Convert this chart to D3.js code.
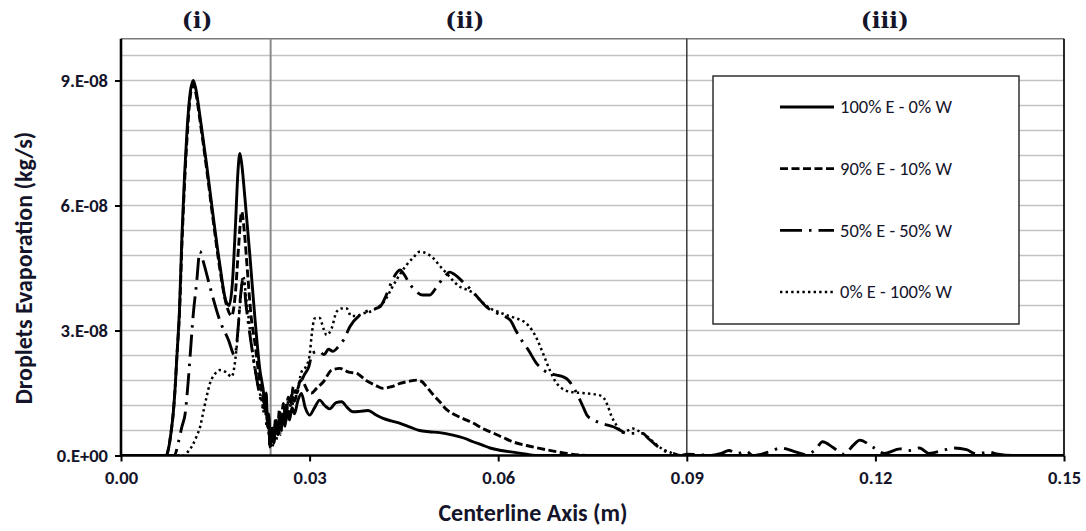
<!DOCTYPE html>
<html><head><meta charset="utf-8">
<script src="https://cdn.jsdelivr.net/npm/d3@7"></script>
<style>body{margin:0;background:#fff}svg{display:block}</style>
</head><body><svg id="chart" width="1086" height="531"></svg>
<script>
// ---------- DATA (x in m, y in units of 1e-8 kg/s) ----------
const xTicks = [0, 0.03, 0.06, 0.09, 0.12, 0.15];
const yTicks = [0, 3, 6, 9];
const gridValues = [0.6,1.2,1.8,2.4,3.0,3.6,4.2,4.8,5.4,6.0,6.6,7.2,7.8,8.4,9.0,9.6];
const regionBounds = [0.0238, 0.09];
const regionLabels = ["(i)", "(ii)", "(iii)"];
const regionLabelX = [0.0121, 0.0547, 0.1215];
const seriesNames = ["100% E - 0% W", "90% E - 10% W", "50% E - 50% W", "0% E - 100% W"];

const s100E = [[0,0],[0.0072,0],[0.0076,0.2],[0.0080,0.6],[0.0083,1.0],[0.0086,1.6],[0.0089,2.4],[0.0093,3.5],[0.0097,5.3],[0.0101,6.7],[0.0105,7.8],[0.0110,8.7],[0.0115,9.0],[0.0119,8.8],[0.0126,8.1],[0.0136,7.0],[0.0147,5.7],[0.0157,4.6],[0.0167,3.7],[0.0172,3.6],[0.0177,4.1],[0.0182,5.5],[0.0186,6.8],[0.0189,7.25],[0.0192,7.0],[0.0197,6.2],[0.0205,4.8],[0.0213,3.3],[0.0221,2.05],[0.0226,1.6],[0.0229,1.25],[0.0231,1.5],[0.0233,0.8],[0.0235,1.0],[0.0237,0.2],[0.0240,0.6],[0.0243,0.3],[0.0246,0.8],[0.0249,0.5],[0.0252,0.9],[0.0255,0.6],[0.0258,1.0],[0.0261,0.7],[0.0264,1.1],[0.0268,0.85],[0.0272,1.15],[0.0276,1.0],[0.0281,1.3],[0.0287,1.49],[0.0293,1.15],[0.0300,0.97],[0.0308,1.15],[0.0316,1.33],[0.0324,1.2],[0.0332,1.12],[0.0342,1.27],[0.0351,1.29],[0.0360,1.15],[0.0369,1.05],[0.0380,1.06],[0.0393,1.08],[0.0405,0.98],[0.0417,0.89],[0.0430,0.83],[0.0444,0.77],[0.0460,0.68],[0.0475,0.6],[0.0490,0.57],[0.0507,0.55],[0.0528,0.49],[0.0545,0.42],[0.0560,0.33],[0.0575,0.25],[0.0587,0.18],[0.0605,0.12],[0.0623,0.08],[0.0645,0.03],[0.0666,0],[0.15,0]];

const s90E = [[0,0],[0.0072,0],[0.0076,0.2],[0.0080,0.6],[0.0083,1.0],[0.0086,1.6],[0.0089,2.4],[0.0093,3.4],[0.0097,5.1],[0.0101,6.5],[0.0105,7.6],[0.0110,8.6],[0.0115,8.9],[0.0119,8.7],[0.0126,8.0],[0.0136,6.9],[0.0147,5.6],[0.0157,4.5],[0.0168,3.6],[0.0176,3.35],[0.0182,3.9],[0.0187,5.0],[0.0192,5.85],[0.0196,5.4],[0.0201,4.45],[0.0207,3.33],[0.0213,2.7],[0.0221,1.75],[0.0226,1.4],[0.0229,1.1],[0.0231,1.3],[0.0233,0.7],[0.0235,0.9],[0.0237,0.25],[0.0240,0.7],[0.0243,0.4],[0.0246,0.9],[0.0249,0.6],[0.0252,1.1],[0.0255,0.8],[0.0258,1.25],[0.0262,0.95],[0.0266,1.4],[0.0270,1.2],[0.0274,1.65],[0.0280,1.5],[0.0285,1.8],[0.0290,1.75],[0.0297,1.55],[0.0303,1.5],[0.0311,1.61],[0.0322,1.77],[0.0335,2.05],[0.0348,2.09],[0.0362,2.0],[0.0375,1.97],[0.0390,1.8],[0.0404,1.69],[0.0417,1.61],[0.0430,1.65],[0.0444,1.73],[0.0458,1.78],[0.0470,1.81],[0.0478,1.78],[0.0486,1.65],[0.0497,1.45],[0.0507,1.29],[0.0518,1.1],[0.0528,1.0],[0.0545,0.88],[0.0560,0.78],[0.0575,0.65],[0.0592,0.54],[0.0608,0.43],[0.0623,0.33],[0.0645,0.24],[0.0666,0.17],[0.0690,0.1],[0.0709,0.05],[0.0730,0.01],[0.0750,0],[0.15,0]];

const s50E = [[0,0],[0.0085,0],[0.0091,0.3],[0.0097,0.7],[0.0102,1.0],[0.0107,1.8],[0.0110,2.4],[0.0115,3.4],[0.0120,4.1],[0.01256,4.9],[0.0130,4.7],[0.01415,4.05],[0.0157,3.25],[0.0171,2.77],[0.0181,2.4],[0.0186,3.0],[0.0190,3.8],[0.01945,4.25],[0.0199,3.6],[0.0205,2.9],[0.0212,2.2],[0.0220,1.5],[0.0226,1.15],[0.0229,1.3],[0.0232,0.7],[0.0235,0.8],[0.0237,0.15],[0.0240,0.5],[0.0243,0.3],[0.0246,0.8],[0.0250,0.5],[0.0254,1.0],[0.0258,0.75],[0.0262,1.2],[0.0266,1.0],[0.0271,1.45],[0.0276,1.3],[0.0281,1.6],[0.0286,1.75],[0.0292,1.95],[0.0298,2.1],[0.0305,2.46],[0.0315,2.5],[0.0323,2.42],[0.0330,2.55],[0.0337,2.5],[0.0345,2.6],[0.0355,2.8],[0.0364,3.09],[0.0380,3.37],[0.0396,3.49],[0.0412,3.57],[0.0422,3.85],[0.0433,4.25],[0.0444,4.45],[0.0450,4.35],[0.0460,4.1],[0.0470,3.93],[0.0480,3.85],[0.0491,3.85],[0.0500,4.0],[0.0507,4.15],[0.0515,4.3],[0.0523,4.4],[0.0530,4.35],[0.0545,4.15],[0.0560,3.93],[0.0570,3.75],[0.0581,3.57],[0.0600,3.4],[0.0619,3.25],[0.0628,3.0],[0.0637,2.77],[0.0648,2.53],[0.0661,2.21],[0.0672,2.05],[0.0682,1.97],[0.0693,1.93],[0.0703,1.89],[0.0712,1.8],[0.0719,1.65],[0.0728,1.4],[0.0735,1.17],[0.0742,0.95],[0.0752,0.85],[0.0762,0.78],[0.0783,0.69],[0.0795,0.6],[0.0804,0.53],[0.0818,0.53],[0.0830,0.53],[0.0838,0.42],[0.0847,0.3],[0.0862,0.13],[0.0878,0.05],[0.0890,0],[0.0900,0.03],[0.0920,0.02],[0.0935,0],[0.0955,0.05],[0.0967,0.12],[0.0980,0.05],[0.0995,0.1],[0.1005,0],[0.1030,0.08],[0.1050,0.18],[0.1070,0.1],[0.1090,0.02],[0.1105,0.15],[0.1116,0.33],[0.1132,0.2],[0.1150,0.03],[0.1165,0.25],[0.1175,0.37],[0.1196,0.2],[0.1215,0.05],[0.1239,0.16],[0.1255,0.12],[0.1270,0.18],[0.1285,0.05],[0.1307,0.12],[0.1325,0.18],[0.1345,0.14],[0.1360,0.04],[0.1380,0.08],[0.1395,0.03],[0.1420,0],[0.15,0]];

const s0E = [[0,0],[0.0100,0],[0.0107,0.1],[0.0114,0.25],[0.0120,0.45],[0.0126,0.7],[0.0131,1.05],[0.0136,1.4],[0.01415,1.73],[0.0149,1.95],[0.0157,2.05],[0.0167,2.0],[0.0176,1.89],[0.0180,2.1],[0.0184,2.61],[0.0189,3.57],[0.01945,4.3],[0.0199,3.8],[0.0203,3.3],[0.0208,2.6],[0.0216,1.8],[0.0224,1.3],[0.0228,1.0],[0.0231,1.2],[0.0235,0.5],[0.0238,0.3],[0.0241,0.2],[0.0244,0.6],[0.0247,0.35],[0.0250,0.8],[0.0254,0.5],[0.0258,1.0],[0.0262,0.8],[0.0266,1.3],[0.0271,1.1],[0.0276,1.5],[0.0281,1.6],[0.0287,2.0],[0.0294,2.13],[0.0300,2.4],[0.0303,2.85],[0.0308,3.29],[0.0316,3.3],[0.0322,3.05],[0.0327,2.89],[0.0335,3.05],[0.0343,3.45],[0.0351,3.53],[0.0359,3.53],[0.0366,3.35],[0.0375,3.35],[0.0385,3.41],[0.0396,3.45],[0.0406,3.53],[0.0414,3.62],[0.0422,3.77],[0.0430,4.0],[0.0438,4.21],[0.0446,4.4],[0.0454,4.57],[0.0465,4.75],[0.0475,4.89],[0.0486,4.85],[0.0497,4.73],[0.0507,4.55],[0.0518,4.37],[0.0528,4.2],[0.0539,4.05],[0.0550,3.98],[0.0560,3.9],[0.0573,3.7],[0.0587,3.53],[0.0600,3.45],[0.0613,3.37],[0.0627,3.3],[0.0640,3.22],[0.0648,3.12],[0.0655,2.98],[0.0663,2.75],[0.0671,2.46],[0.0682,2.05],[0.0690,1.8],[0.0698,1.65],[0.0706,1.57],[0.0714,1.53],[0.0740,1.49],[0.0760,1.45],[0.0768,1.38],[0.0774,1.2],[0.0780,0.95],[0.0788,0.73],[0.0798,0.55],[0.0806,0.6],[0.0814,0.65],[0.0822,0.6],[0.0830,0.53],[0.0840,0.42],[0.0850,0.28],[0.0862,0.15],[0.0873,0.08],[0.0885,0],[0.15,0]];

// ---------- CHART ----------
const svg = d3.select("#chart");
const x = d3.scaleLinear().domain([0, 0.15]).range([121, 1064]);
const y = d3.scaleLinear().domain([0, 10]).range([455.5, 38.8]);
const sansBold = "Carlito, Calibri, Lato, 'Open Sans', sans-serif";
const textCol = "#14142a";

svg.append("defs").append("clipPath").attr("id","plotclip")
  .append("rect").attr("x", x(0)).attr("y", y(10)).attr("width", x(0.15)-x(0)).attr("height", y(0)-y(10));

// gridlines
svg.append("g").selectAll("line").data(gridValues).join("line")
  .attr("x1", x(0)).attr("x2", x(0.15))
  .attr("y1", d => y(d)).attr("y2", d => y(d))
  .attr("stroke", "#c2c2c2").attr("stroke-width", 1.5);

// top and right frame
svg.append("line").attr("x1", x(0)).attr("x2", x(0.15)).attr("y1", y(10)).attr("y2", y(10))
  .attr("stroke", "#7a7a7a").attr("stroke-width", 1.6);
svg.append("line").attr("x1", x(0.15)).attr("x2", x(0.15)).attr("y1", y(10)).attr("y2", y(0))
  .attr("stroke", "#111").attr("stroke-width", 1.8);

// region boundaries
svg.append("line").attr("x1", x(regionBounds[0])).attr("x2", x(regionBounds[0])).attr("y1", y(10)).attr("y2", y(0))
  .attr("stroke", "#8a8a8a").attr("stroke-width", 2);
svg.append("line").attr("x1", x(regionBounds[1])).attr("x2", x(regionBounds[1])).attr("y1", y(10)).attr("y2", y(0))
  .attr("stroke", "#3a3a3a").attr("stroke-width", 1.5);

// region labels
svg.append("g").selectAll("text").data(regionLabels).join("text")
  .attr("x", (d,i) => x(regionLabelX[i])).attr("y", 28)
  .attr("text-anchor", "middle")
  .style("font-family", "'DejaVu Serif', 'Liberation Serif', serif")
  .style("font-weight", "bold").style("font-size", "23px").attr("fill", textCol)
  .text(d => d);

// series
const line = d3.line().x(d => x(d[0])).y(d => y(d[1])).curve(d3.curveMonotoneX);
const series = [
  {data: s0E,   dash: "2.4,3.2", w: 2.5, name: seriesNames[3]},
  {data: s50E,  dash: "22,7,2.5,7", w: 2.9, name: seriesNames[2]},
  {data: s90E,  dash: "8,3.5", w: 2.9, name: seriesNames[1]},
  {data: s100E, dash: null, w: 2.9, name: seriesNames[0]}
];
const gLines = svg.append("g").attr("clip-path", "url(#plotclip)");
series.forEach(s => {
  gLines.append("path").datum(s.data).attr("d", line)
    .attr("fill", "none").attr("stroke", "#000").attr("stroke-width", s.w)
    .attr("stroke-dasharray", s.dash).attr("stroke-linejoin", "round");
});

// axes
const yAxis = d3.axisLeft(y).tickValues(yTicks).tickSize(6).tickPadding(7)
  .tickFormat(d => d === 0 ? "0.E+00" : d + ".E-08");
const gy = svg.append("g").attr("transform", `translate(${x(0)},0)`).call(yAxis);
const xAxis = d3.axisBottom(x).tickValues(xTicks).tickSize(6).tickPadding(9)
  .tickFormat(d3.format(".2f"));
const gx = svg.append("g").attr("transform", `translate(0,${y(0)})`).call(xAxis);
[gx, gy].forEach(g => {
  g.select(".domain").attr("stroke", "#000").attr("stroke-width", 2.6);
  g.selectAll(".tick line").attr("stroke", "#000").attr("stroke-width", 2);
  g.selectAll(".tick text").attr("fill", textCol)
    .style("font-family", sansBold).style("font-weight", "bold").style("font-size", "18.5px");
});
gx.select(".domain").attr("d", `M${x(0)},0H${x(0.15)}`);
gy.select(".domain").attr("d", `M0,${y(0)}V${y(10)}`);

// axis titles
svg.append("text").attr("x", 533).attr("y", 521).attr("text-anchor", "middle")
  .style("font-family", sansBold).style("font-weight", "bold").style("font-size", "24px")
  .attr("fill", textCol).text("Centerline Axis (m)");
svg.append("text").attr("transform", "translate(32,268) rotate(-90)").attr("text-anchor", "middle")
  .style("font-family", sansBold).style("font-weight", "bold").style("font-size", "24px")
  .attr("fill", textCol).text("Droplets Evaporation (kg/s)");

// legend
const lg = svg.append("g");
lg.append("rect").attr("x", 713).attr("y", 76).attr("width", 306).attr("height", 248)
  .attr("fill", "#fff").attr("stroke", "#222").attr("stroke-width", 1.4);
const legendOrder = [series[3], series[2], series[1], series[0]];
const legendRowY = d3.scalePoint().domain(d3.range(4)).range([107, 292]);
legendOrder.forEach((s, i) => {
  const yy = legendRowY(i);
  lg.append("line").attr("x1", 780).attr("x2", 834).attr("y1", yy).attr("y2", yy)
    .attr("stroke", "#000").attr("stroke-width", s.w).attr("stroke-dasharray", s.dash);
  lg.append("text").attr("x", 840).attr("y", yy).attr("dy", "0.35em")
    .style("font-family", sansBold).style("font-size", "18.5px").attr("fill", textCol)
    .text(s.name);
});
</script></body></html>
